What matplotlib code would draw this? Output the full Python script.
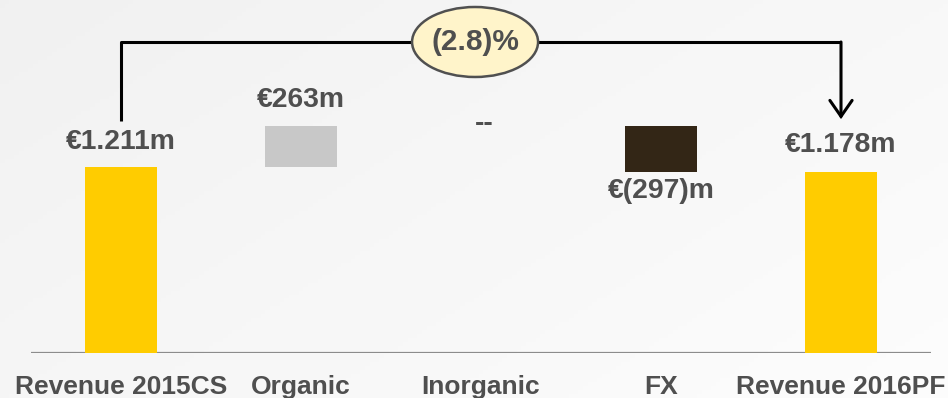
import numpy as np
import matplotlib.pyplot as plt
from matplotlib.patches import Ellipse

plt.rcParams['font.family'] = ['Liberation Sans', 'DejaVu Sans']
plt.rcParams['font.weight'] = 'bold'

# data
categories = ["Revenue 2015CS", "Organic", "Inorganic", "FX", "Revenue 2016PF"]
changes = [1211, 263, 0, -297, 1178]
value_labels = ["€1.211m", "€263m", "--", "€(297)m", "€1.178m"]
change_label = "(2.8)%"

text_col = "#4f4f4f"
colors = ["#FFCC00", "#C8C8C8", "#C8C8C8", "#332616", "#FFCC00"]

# waterfall bottoms
bottoms = []
running = 0
for i, v in enumerate(changes):
    if i == 0 or i == len(changes) - 1:
        bottoms.append(0)
        running = v if i == 0 else running
    else:
        bottoms.append(running if v >= 0 else running + v)
        running += v
heights = [abs(v) for v in changes]
tops = [b + h for b, h in zip(bottoms, heights)]

fig = plt.figure(figsize=(9.48, 3.98), dpi=100)

# soft background gradient
bg = fig.add_axes([0, 0, 1, 1])
gx, gy = np.meshgrid(np.linspace(0, 1, 200), np.linspace(0, 1, 100))
bg.imshow(0.6 * gx + 0.4 * gy, cmap="Greys_r", vmin=-9, vmax=1.2,
          aspect="auto", extent=[0, 1, 0, 1])
bg.axis("off")

ax = fig.add_axes([31 / 948, 45 / 398, 900 / 948, 353 / 398])
ax.patch.set_alpha(0)
x = np.arange(len(categories))
ax.bar(x, heights, bottom=bottoms, width=0.4, color=colors, zorder=3)

ax.set_xlim(-0.5, 4.5)
ax.set_ylim(0, 2295)
ax.axhline(0, color="#8c8c8c", lw=1.6, zorder=2)
for s in ax.spines.values():
    s.set_visible(False)
ax.set_yticks([])
ax.set_xticks(x)
ax.set_xticklabels(categories, fontsize=19, color=text_col, fontweight="bold")
ax.tick_params(axis="x", length=0, pad=16)

# value labels
offsets = [25, 26, 2, -19, 27]
for i, lab in enumerate(value_labels):
    y = bottoms[i] if changes[i] < 0 else tops[i]
    if i == 2:
        y = tops[1]
    ax.annotate(lab, (x[i] + (0.02 if i == 2 else 0), y), xytext=(0, offsets[i]),
                textcoords="offset pixels", ha="center", va="center",
                fontsize=20.3, color=text_col, fontweight="bold")

# bracket with arrow
bracket_y = 2022
ax.plot([x[0], x[0], x[-1]], [tops[0] + 297, bracket_y, bracket_y],
        color="black", lw=2.2, solid_capstyle="butt", zorder=4)
ax.annotate("", xy=(x[-1], tops[-1] + 343), xytext=(x[-1], bracket_y),
            arrowprops=dict(arrowstyle="->,head_length=1.15,head_width=0.8",
                            color="black", lw=2.2, shrinkA=0, shrinkB=0,
                            joinstyle="miter"), zorder=4)
ax.add_patch(Ellipse((1.967, bracket_y), 0.7, 455, facecolor="#FFF4CA",
                     edgecolor="#505050", lw=1.8, zorder=5))
ax.text(1.967, bracket_y, change_label, ha="center", va="center", fontsize=21.5,
        color=text_col, fontweight="bold", zorder=6)

fig.savefig("out.png", dpi=100)
